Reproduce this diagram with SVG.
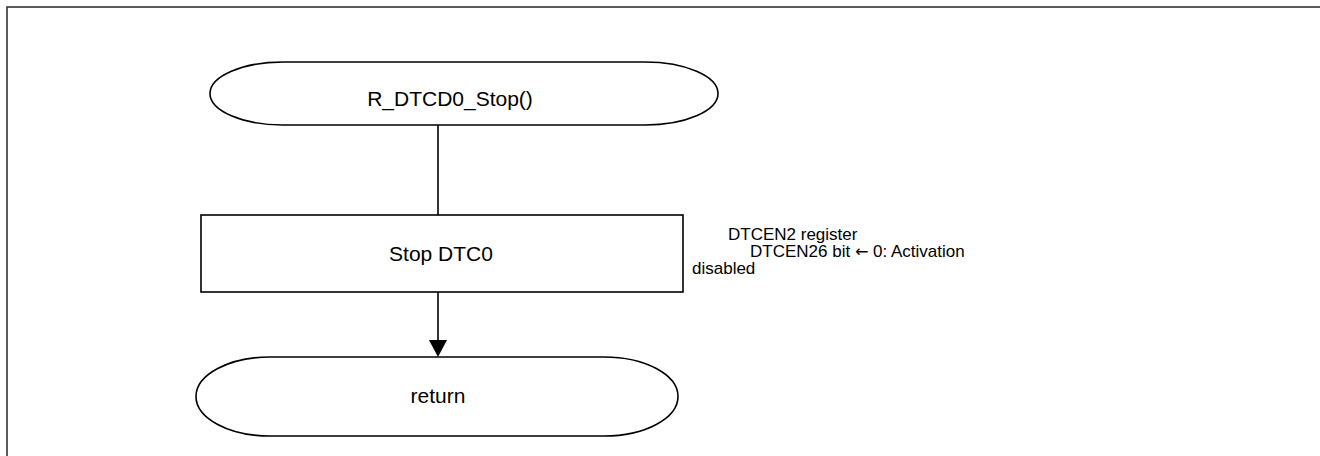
<svg xmlns="http://www.w3.org/2000/svg" width="1320" height="456" viewBox="0 0 1320 456">
  <style>
    .shape { fill: #fff; stroke: #000; stroke-width: 1.6; }
    .frame { fill: none; stroke: #333; stroke-width: 1.6; }
    .label { font-family: "Liberation Sans", Arial, sans-serif; font-size: 21px; fill: #000; text-anchor: middle; }
    .note { font-family: "Liberation Sans", Arial, sans-serif; font-size: 17px; fill: #000; }
    .arrowch { font-family: "DejaVu Sans", sans-serif; font-size: 16px; }
    .wire { fill: none; stroke: #000; stroke-width: 1.6; }
  </style>

  <!-- outer frame, open past the right and bottom edges -->
  <rect class="frame" x="7" y="7" width="1400" height="500"/>

  <!-- connectors -->
  <g id="connectors">
    <line class="wire" x1="438" y1="125" x2="438" y2="215"/>
    <line class="wire" x1="438" y1="292" x2="438" y2="342"/>
    <path d="M429,340 L447,340 L438,357 Z" fill="#000"/>
  </g>

  <!-- start terminal -->
  <g id="start">
    <path class="shape" d="M283,62 L645,62 A73,31.5 0 0 1 645,125 L283,125 A73,31.5 0 0 1 283,62 Z"/>
    <text class="label" x="450" y="106">R_DTCD0_Stop()</text>
  </g>

  <!-- process -->
  <g id="stop-dtc0">
    <rect class="shape" x="201" y="215" width="482" height="77"/>
    <text class="label" x="441" y="261">Stop DTC0</text>
  </g>

  <!-- annotation -->
  <g id="note">
    <text class="note" x="728" y="240">DTCEN2 register</text>
    <text class="note" x="750" y="257">DTCEN26 bit <tspan class="arrowch">←</tspan> 0: Activation</text>
    <text class="note" x="692" y="274">disabled</text>
  </g>

  <!-- end terminal -->
  <g id="return">
    <path class="shape" d="M270,357 L604,357 A74,39.5 0 0 1 604,436 L270,436 A74,39.5 0 0 1 270,357 Z"/>
    <text class="label" x="438" y="403">return</text>
  </g>
</svg>
